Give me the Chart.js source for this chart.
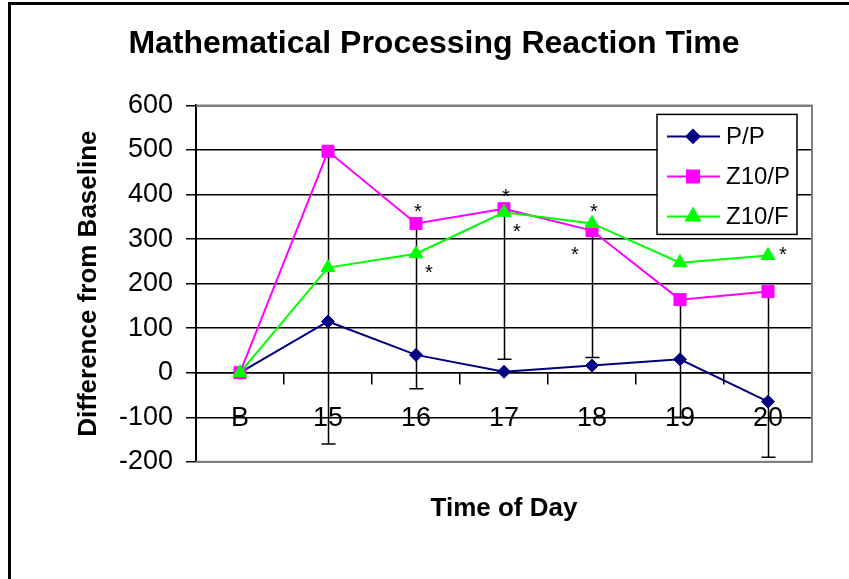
<!DOCTYPE html>
<html>
<head>
<meta charset="utf-8">
<script src="https://cdn.jsdelivr.net/npm/chart.js@4.4.0/dist/chart.umd.min.js"></script>
<style>
    html, body { margin: 0; padding: 0; background: #fff; }
    #chart { display: block; }
</style>
</head>
<body>
<canvas id="chart" width="849" height="579"></canvas>
<script>
// Data
const categories = ['B', '15', '16', '17', '18', '19', '20'];
const ppValues   = [0, 115, 40, 2, 16, 30, -65];
const z10pValues = [0, 497, 335, 368, 319, 164, 182];
const z10fValues = [0, 236, 267, 360, 335, 247, 263];
// minus-direction error bars on Z10/P
const z10pErrMinus = [0, 657, 371, 338, 285, 264, 372];
const yMin = -200, yMax = 600, yStep = 100;

// significance marks: which point they sit next to
const asteriskNotes = [
    { series: 'Z10/P', category: '16', place: 'above' },
    { series: 'Z10/F', category: '16', place: 'belowRight' },
    { series: 'Z10/P', category: '17', place: 'above' },
    { series: 'Z10/F', category: '17', place: 'belowRight' },
    { series: 'Z10/F', category: '18', place: 'above' },
    { series: 'Z10/P', category: '18', place: 'belowLeft' },
    { series: 'Z10/F', category: '20', place: 'right' }
];

const FONT = "'Liberation Sans', Arial, sans-serif";
Chart.defaults.font.family = FONT;
Chart.defaults.color = '#000';

// white page + the outer chart frame (only left and top are visible)
const framePlugin = {
    id: 'frame',
    beforeDraw(chart) {
        const ctx = chart.ctx;
        ctx.save();
        ctx.fillStyle = '#fff';
        ctx.fillRect(0, 0, chart.width, chart.height);
        ctx.strokeStyle = '#000';
        ctx.lineWidth = 3;
        ctx.beginPath();
        ctx.moveTo(9.5, chart.height + 5);
        ctx.lineTo(9.5, 3.5);
        ctx.lineTo(chart.width + 5, 3.5);
        ctx.stroke();
        ctx.restore();
    }
};

// grey plot border and the error bars, under the series
const plotDecor = {
    id: 'plotDecor',
    beforeDatasetsDraw(chart) {
        const { ctx, chartArea: a, scales: { x, y } } = chart;
        ctx.save();
        ctx.strokeStyle = '#808080';
        ctx.lineWidth = 2;
        ctx.beginPath();
        ctx.moveTo(a.left, a.top);
        ctx.lineTo(a.right, a.top);
        ctx.lineTo(a.right, a.bottom);
        ctx.lineTo(a.left, a.bottom);
        ctx.stroke();

        ctx.strokeStyle = '#000';
        ctx.lineWidth = 1.5;
        z10pValues.forEach((v, i) => {
            if (!z10pErrMinus[i]) return;
            const px = Math.round(x.getPixelForValue(i)) + 0.5;
            const top = y.getPixelForValue(v);
            const bot = y.getPixelForValue(v - z10pErrMinus[i]);
            ctx.beginPath();
            ctx.moveTo(px, top);
            ctx.lineTo(px, bot);
            ctx.moveTo(px - 7, bot);
            ctx.lineTo(px + 7, bot);
            ctx.stroke();
        });
        ctx.restore();
    },
    afterDatasetsDraw(chart) {
        const { ctx, chartArea: a, scales: { x, y } } = chart;
        ctx.save();

        // asterisks
        const offsets = {
            above: [2, -15], belowRight: [13, 16], belowLeft: [-17, 21], right: [15, -4]
        };
        ctx.fillStyle = '#000';
        ctx.font = '20px ' + FONT;
        ctx.textAlign = 'center';
        ctx.textBaseline = 'middle';
        asteriskNotes.forEach(n => {
            const ds = chart.data.datasets.find(d => d.label === n.series);
            const i = categories.indexOf(n.category);
            const [dx, dy] = offsets[n.place];
            ctx.fillText('*', x.getPixelForValue(i) + dx, y.getPixelForValue(ds.data[i]) + dy + 4);
        });

        // legend box inside the plot
        const w = 140, h = 120;
        const lx = a.right - 15 - w, ly = a.top + 9;
        ctx.fillStyle = '#fff';
        ctx.fillRect(lx, ly, w, h);
        ctx.strokeStyle = '#000';
        ctx.lineWidth = 1.5;
        ctx.strokeRect(lx, ly, w, h);
        ctx.font = '24px ' + FONT;
        ctx.textAlign = 'left';
        chart.data.datasets.forEach((ds, k) => {
            const ry = ly + 22 + k * 40;
            ctx.strokeStyle = ds.borderColor;
            ctx.lineWidth = ds.borderWidth;
            ctx.beginPath();
            ctx.moveTo(lx + 10, ry);
            ctx.lineTo(lx + 63, ry);
            ctx.stroke();
            ctx.fillStyle = ds.pointBackgroundColor;
            ctx.strokeStyle = ds.pointBorderColor;
            Chart.helpers.drawPoint(ctx, {
                pointStyle: ds.pointStyle, radius: ds.pointRadius, rotation: 0, borderWidth: 1
            }, lx + 36, ry);
            ctx.fillStyle = '#000';
            ctx.fillText(ds.label, lx + 69, ry + 1);
        });
        ctx.restore();
    }
};

new Chart(document.getElementById('chart'), {
    type: 'line',
    data: {
        labels: categories,
        datasets: [
            {
                label: 'P/P', data: ppValues, order: 3,
                borderColor: '#000080', borderWidth: 2,
                pointStyle: 'rectRot', pointRadius: 6.5,
                pointBackgroundColor: '#000080', pointBorderColor: '#000080', pointBorderWidth: 1
            },
            {
                label: 'Z10/P', data: z10pValues, order: 2,
                borderColor: '#ff00ff', borderWidth: 2,
                pointStyle: 'rect', pointRadius: 8.5,
                pointBackgroundColor: '#ff00ff', pointBorderColor: '#ff00ff', pointBorderWidth: 1
            },
            {
                label: 'Z10/F', data: z10fValues, order: 1,
                borderColor: '#00ff00', borderWidth: 2,
                pointStyle: 'triangle', pointRadius: 8,
                pointBackgroundColor: '#00ff00', pointBorderColor: '#00ff00', pointBorderWidth: 1
            }
        ]
    },
    options: {
        responsive: false,
        animation: false,
        devicePixelRatio: 1,
        layout: { padding: { left: 56, right: 37, top: 0, bottom: 0 } },
        plugins: {
            legend: { display: false },
            tooltip: { enabled: false },
            title: {
                display: true,
                text: 'Mathematical Processing Reaction Time',
                color: '#000',
                font: { size: 32, weight: 'bold' },
                padding: { top: 25, bottom: 42 }
            },
            subtitle: {
                display: true,
                position: 'bottom',
                fullSize: false,
                text: 'Time of Day',
                color: '#000',
                font: { size: 26, weight: 'bold' },
                padding: { top: 31, bottom: 55 }
            }
        },
        scales: {
            x: {
                type: 'category',
                offset: true,
                position: { y: 0 },
                ticks: { color: '#000', font: { size: 27 }, padding: 19, maxRotation: 0, autoSkip: false },
                grid: { offset: true, drawOnChartArea: false, drawTicks: true, tickLength: 11, color: '#000', lineWidth: 1.5 },
                border: { display: true, color: '#000', width: 1.5 }
            },
            y: {
                min: yMin,
                max: yMax,
                ticks: { stepSize: yStep, color: '#000', font: { size: 27 }, padding: 13 },
                grid: { color: '#000', lineWidth: 1.5, tickLength: 10 },
                border: { display: true, color: '#000', width: 2 },
                title: {
                    display: true,
                    text: 'Difference from Baseline',
                    color: '#000',
                    font: { size: 26, weight: 'bold' },
                    padding: { top: 17, bottom: 0 }
                },
                afterFit(scale) { scale.width = 140; }
            }
        }
    },
    plugins: [framePlugin, plotDecor]
});
</script>
</body>
</html>
